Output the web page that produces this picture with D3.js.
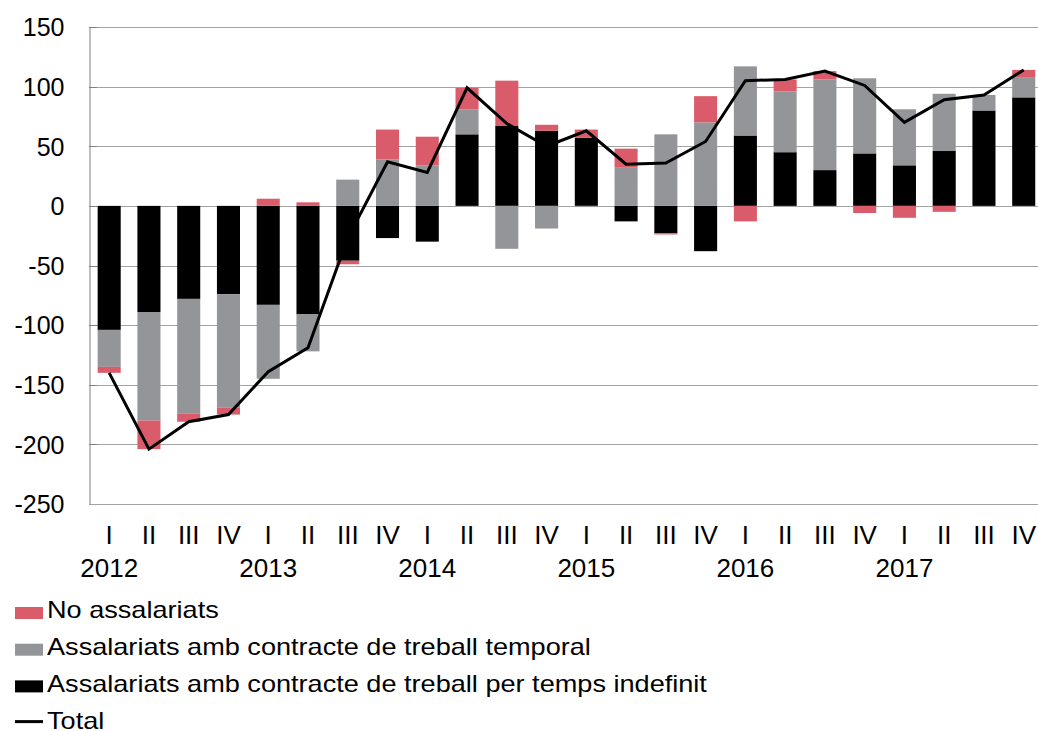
<!doctype html>
<html>
<head>
<meta charset="utf-8">
<script src="https://d3js.org/d3.v7.min.js"></script>
<style>
  body { margin: 0; background: #fff; }
  svg text { font-family: "Liberation Sans", Arial, sans-serif; fill: #000; }
</style>
</head>
<body>
<script>
// quarters and years (labels of the x axis)
var quarters = ["I","II","III","IV","I","II","III","IV","I","II","III","IV",
                "I","II","III","IV","I","II","III","IV","I","II","III","IV"];
var years = ["2012","2013","2014","2015","2016","2017"];

// series values (thousands)
var indefinit = [-104, -89, -78, -74, -83, -91, -46, -27, -30, 60, 67, 63,
                 57, -13, -23, -38, 59, 45, 30, 44, 34, 46, 80, 91];
var temporal  = [-31, -91, -96, -95, -62, -31, 22, 39, 34, 21, -36, -19,
                 -1, 32, 60, 70, 58, 51, 76, 63, 47, 48, 13, 17];
var noAssal   = [-5, -24, -7, -6, 6, 3, -3, 25, 24, 18, 38, 5,
                 7, 16, -1, 22, -13, 10, 7, -6, -10, -5, 0, 6];
var total     = [-140, -204, -181, -175, -139, -119, -27, 37, 28, 99, 69, 50,
                 63, 35, 36, 54, 105, 106, 113, 101, 70, 89, 93, 114];

var yTicks = [150, 100, 50, 0, -50, -100, -150, -200, -250];

var seriesNames = ["No assalariats",
                   "Assalariats amb contracte de treball temporal",
                   "Assalariats amb contracte de treball per temps indefinit",
                   "Total"];
var colors = { indefinit: "#000000", temporal: "#939598", noAssal: "#da5c6b" };

var W = 1038, H = 731;
var svg = d3.select("body").append("svg")
    .attr("width", W)
    .attr("height", H);

// build rows for the stack
var rows = quarters.map(function(q, i) {
  return { i: i, indefinit: indefinit[i], temporal: temporal[i], noAssal: noAssal[i] };
});

var x = d3.scaleBand()
    .domain(d3.range(quarters.length))
    .range([89.3, 1043.6])
    .paddingInner(0.42)
    .paddingOuter(0.21);

var y = d3.scaleLinear()
    .domain([-250, 150])
    .range([504, 27]);

// gridlines
svg.append("g")
  .selectAll("line")
  .data(yTicks.slice(0, -1))
  .join("line")
    .attr("x1", 89).attr("x2", W)
    .attr("y1", function(d) { return Math.round(y(d)) + 0.5; })
    .attr("y2", function(d) { return Math.round(y(d)) + 0.5; })
    .attr("stroke", "#a3a3a3")
    .attr("stroke-width", 1);

// stacked bars
var stack = d3.stack()
    .keys(["indefinit", "temporal", "noAssal"])
    .offset(d3.stackOffsetDiverging);

var layers = stack(rows);

svg.append("g")
  .selectAll("g")
  .data(layers)
  .join("g")
    .attr("fill", function(d) { return colors[d.key]; })
  .selectAll("rect")
  .data(function(d) { return d; })
  .join("rect")
    .attr("x", function(d) { return x(d.data.i); })
    .attr("width", x.bandwidth())
    .attr("y", function(d) { return y(Math.max(d[0], d[1])); })
    .attr("height", function(d) { return Math.abs(y(d[0]) - y(d[1])); });

// left axis (hyphen minus like the original)
var yAxis = d3.axisLeft(y).tickValues(yTicks).tickSize(0).tickPadding(25)
    .tickFormat(function(d) { return String(d); });
var gy = svg.append("g")
    .attr("transform", "translate(89.5,0)")
    .call(yAxis);
gy.select(".domain").attr("stroke", "#808080");
gy.selectAll("text")
    .style("font-size", "25px")
    .attr("dy", "0.35em");

// small inward tick marks
svg.append("g")
  .selectAll("line")
  .data(yTicks)
  .join("line")
    .attr("x1", 89).attr("x2", 97)
    .attr("y1", function(d) { return Math.round(y(d)) + 0.5; })
    .attr("y2", function(d) { return Math.round(y(d)) + 0.5; })
    .attr("stroke", "#808080");

svg.append("line")
    .attr("x1", 89).attr("x2", W)
    .attr("y1", Math.round(y(-250)) + 0.5).attr("y2", Math.round(y(-250)) + 0.5)
    .attr("stroke", "#a3a3a3");

// x axis labels (quarters and years)
var xAxis = d3.axisBottom(x).tickSize(0).tickPadding(0)
    .tickFormat(function(i) { return quarters[i]; });
var gx = svg.append("g")
    .attr("transform", "translate(0,535)")
    .call(xAxis);
gx.select(".domain").remove();
gx.selectAll("text")
    .style("font-size", "26px")
    .attr("dy", "0.35em");

svg.append("g")
  .selectAll("text")
  .data(years)
  .join("text")
    .attr("x", function(d, k) { return x(k * 4) + x.bandwidth() / 2; })
    .attr("y", 567.5)
    .attr("dy", "0.35em")
    .attr("text-anchor", "middle")
    .style("font-size", "26px")
    .text(function(d) { return d; });

// total line
var line = d3.line()
    .x(function(d, i) { return x(i) + x.bandwidth() / 2; })
    .y(function(d) { return y(d); });

svg.append("path")
    .datum(total)
    .attr("d", line)
    .attr("fill", "none")
    .attr("stroke", "#000")
    .attr("stroke-width", 3)
    .attr("stroke-linejoin", "miter");

// legend
var legendKeys = ["noAssal", "temporal", "indefinit", "total"];
var leg = svg.append("g")
  .selectAll("g")
  .data(legendKeys)
  .join("g")
    .attr("transform", function(d, k) { return "translate(0," + (610 + k * 36.7) + ")"; });

leg.filter(function(d) { return d !== "total"; })
  .append("rect")
    .attr("x", 15).attr("y", -3)
    .attr("width", 28).attr("height", 12)
    .attr("fill", function(d) { return colors[d]; });

leg.filter(function(d) { return d === "total"; })
  .append("line")
    .attr("x1", 15).attr("x2", 43)
    .attr("y1", 1.5).attr("y2", 1.5)
    .attr("stroke", "#000").attr("stroke-width", 3);

// legend text in the original is a bit wider than the font, so stretch it
leg.append("text")
    .attr("transform", "translate(47,0) scale(1.13,1)")
    .attr("dy", "0.35em")
    .style("font-size", "24px")
    .text(function(d, k) { return seriesNames[k]; });
</script>
</body>
</html>
